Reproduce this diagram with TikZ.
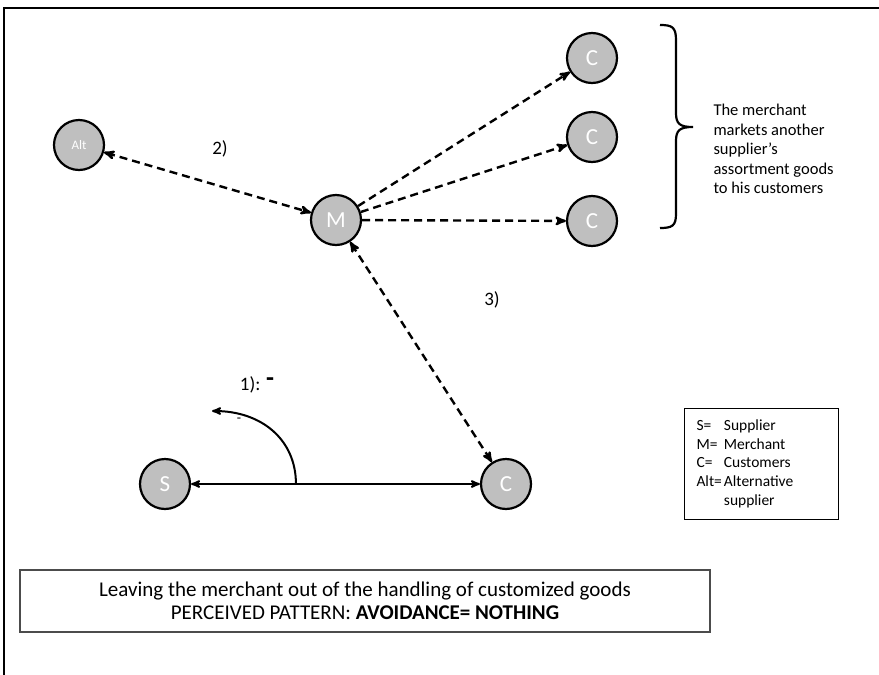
\documentclass[tikz,border=0pt]{standalone}
\usepackage{fontspec}
\setmainfont{Carlito}
\usepackage{tikz}
\usetikzlibrary{arrows,shapes,positioning,calc}
\tikzset{
    actor/.style={
        circle,
        line width=2.2pt,
        draw=black,
        fill=gray!50,
        minimum size=50pt,
        inner sep=0pt,
        text=white,
        font=\fontsize{23}{26}\selectfont,
    },
    link/.style={
        dashed,
        line width=2.4pt,
        dash pattern=on 8pt off 5pt,
    },
    solid link/.style={
        line width=2pt,
    },
    tag/.style={
        font=\fontsize{19}{23}\selectfont,
    },
}

\begin{document}
\begin{tikzpicture}[x=1pt,y=-1pt,>=stealth',auto]
	    \useasboundingbox (0,0) rectangle (879,675);
	    \draw[line width=1.5pt] (4,675) -- (4,8) -- (879,8);
	    \node [actor,font=\fontsize{13}{15}\selectfont] (Alt) at (79,145) {Alt};
	    \node [actor] (M) at (336,220) {M};
	    \node [actor] (C1) at (592,58) {C};
	    \node [actor] (C2) at (592,137) {C};
	    \node [actor] (C3) at (592,221) {C};
	    \node [actor] (S) at (165,484) {S};
	    \node [actor] (C4) at (506,484) {C};
	    \path[<->,link] (Alt) edge (M);
	    \path[->,link] (M) edge (C1) edge (C2) edge (C3);
	    \path[<->,link] (M) edge (C4);
	    \path[<->,solid link] (S) edge (C4);
	    % bent arrow off the S--C line
	    \coordinate (bend) at ($(S)!0.384!(C4)$);
	    \coordinate (bend-tip) at (212,411);
	    \draw[->,solid link] (bend) .. controls (296,440) and (262,411) .. (bend-tip);
	    \node [tag] (one) at (257,385) {1): \raisebox{4pt}{\fontsize{26}{26}\selectfont\textbf{-}}};
	    \node [font=\fontsize{14}{16}\selectfont] (minus) at (239,420) {-};
	    \node [tag] (two) at (220,149) {2)};
	    \node [tag] (three) at (492,300) {3)};
	    % brace over the customers
	    \draw[line width=2.2pt] (660,25) .. controls (672,25) and (676,27) .. (676,40) -- (676,113)
	        .. controls (676,124) and (680,127) .. (693,127) .. controls (680,127) and (676,130) .. (676,141)
	        -- (676,214) .. controls (676,226) and (672,228) .. (660,228);
	    \node [anchor=west,align=left,font=\fontsize{16.5}{19.5}\selectfont] (note) at (710,149)
	        {The merchant\\markets another\\supplier’s\\assortment goods\\to his customers};
	    \node [draw,line width=1pt,anchor=north west,inner xsep=12pt,inner ysep=4pt,
	        minimum width=154pt,minimum height=111pt,text width=130pt,align=left,
	        font=\fontsize{15.5}{18.7}\selectfont] (key) at (684,408)
	        {\begin{tabular}{@{}l@{\hspace{2pt}}l@{}}
	        S= & Supplier\\
	        M= & Merchant\\
	        C= & Customers\\
	        Alt= & Alternative\\
	         & supplier
	        \end{tabular}};
	    \node [draw=black!70,line width=1.3pt,minimum width=690pt,minimum height=62pt,
	        align=center,font=\fontsize{21}{23}\selectfont] (caption) at (365,601)
	        {Leaving the merchant out of the handling of customized goods\\
	        PERCEIVED PATTERN: \textbf{AVOIDANCE= NOTHING}};
\end{tikzpicture}
\end{document}
